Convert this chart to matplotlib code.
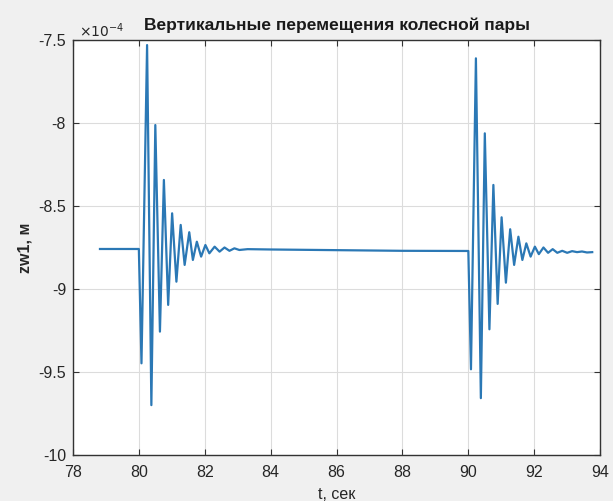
import matplotlib
matplotlib.use("Agg")
import matplotlib.pyplot as plt
import numpy as np

plt.rcParams['font.family'] = ['Liberation Sans', 'DejaVu Sans']

# time (s) and displacement (x1e-4 m)
t_values = [78.82, 80.00, 80.08, 80.25, 80.38, 80.50, 80.64, 80.76, 80.89, 81.01,
            81.14, 81.27, 81.39, 81.53, 81.64, 81.76, 81.89, 82.02, 82.14,
            82.30, 82.45, 82.60, 82.75, 82.90, 83.05, 83.30, 84.00, 86.00, 88.00,
            90.00, 90.08, 90.23, 90.38, 90.50, 90.64, 90.76, 90.89, 91.01,
            91.14, 91.27, 91.39, 91.52, 91.64, 91.76, 91.89, 92.02, 92.14,
            92.28, 92.42, 92.56, 92.70, 92.85, 93.00, 93.15, 93.30, 93.45, 93.60, 93.76]
zw1_values = [-8.759, -8.759, -9.448, -7.53, -9.70, -8.012, -9.257, -8.343, -9.096, -8.544,
              -8.956, -8.614, -8.855, -8.658, -8.825, -8.715, -8.805, -8.735, -8.785,
              -8.745, -8.775, -8.750, -8.770, -8.755, -8.765, -8.760, -8.762, -8.766, -8.770,
              -8.771, -9.484, -7.61, -9.658, -8.062, -9.243, -8.373, -9.09, -8.568,
              -8.962, -8.64, -8.855, -8.685, -8.825, -8.725, -8.805, -8.745, -8.79,
              -8.75, -8.782, -8.760, -8.782, -8.770, -8.782, -8.772, -8.778, -8.774, -8.780, -8.778]

x_ticks = [78, 80, 82, 84, 86, 88, 90, 92, 94]
y_ticks = [-10, -9.5, -9, -8.5, -8, -7.5]
y_tick_labels = ['-10', '-9.5', '-9', '-8.5', '-8', '-7.5']

fig = plt.figure(figsize=(6.13, 5.01), dpi=100, facecolor='#f0f0f0')
ax = fig.add_axes([0.119, 0.092, 0.860, 0.828])
ax.set_facecolor('white')
ax.plot(t_values, zw1_values, color='#2b78b5', linewidth=1.6)

ax.set_xlim(78, 94)
ax.set_ylim(-10, -7.5)
ax.set_xticks(x_ticks)
ax.set_yticks(y_ticks)
ax.set_yticklabels(y_tick_labels)
ax.tick_params(direction='in', top=True, right=True, labelsize=11.5, length=4,
               color='#333333', labelcolor='#262626')
ax.tick_params(axis='x', pad=7)
ax.tick_params(axis='y', pad=5)
ax.grid(True, color='#dcdcdc', linewidth=0.8)
ax.set_axisbelow(True)
for s in ax.spines.values():
    s.set_color('#333333')
    s.set_linewidth(1.0)

ax.set_title('Вертикальные перемещения колесной пары', fontsize=12.5, fontweight='bold',
             color='#1a1a1a', pad=7)
ax.set_xlabel('t, сек', fontsize=11.5, color='#262626', labelpad=5)
ax.set_ylabel('zw1, м', fontsize=11.5, fontweight='bold', color='#262626', labelpad=4)
ax.text(0.012, 1.0, r'$\times10^{-4}$', transform=ax.transAxes, fontsize=10,
        color='#262626', ha='left', va='bottom')

fig.savefig('out.png', dpi=100, facecolor=fig.get_facecolor())
